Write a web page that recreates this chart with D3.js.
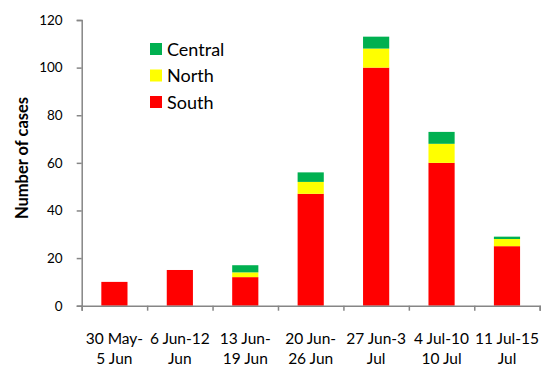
<!DOCTYPE html>
<html>
<head>
<meta charset="utf-8">
<script src="https://cdn.jsdelivr.net/npm/d3@7"></script>
<style>
  html, body { margin: 0; padding: 0; background: #fff; }
  svg { display: block; font-family: Lato, "Open Sans", sans-serif; }
</style>
</head>
<body>
<svg id="chart" width="544" height="365"></svg>
<script>
// Weekly case counts by region
const weeks = [
  ["30 May-", "5 Jun"],
  ["6 Jun-12", "Jun"],
  ["13 Jun-", "19 Jun"],
  ["20 Jun-", "26 Jun"],
  ["27 Jun-3", "Jul"],
  ["4 Jul-10", "10 Jul"],
  ["11 Jul-15", "Jul"]
];
const south   = [10, 15, 12, 47, 100, 60, 25];
const north   = [0, 0, 2, 5, 8, 8, 3];
const central = [0, 0, 3, 4, 5, 5, 1];
const yTicks  = [0, 20, 40, 60, 80, 100, 120];

const seriesNames  = ["South", "North", "Central"];
const seriesColors = { South: "#FF0000", North: "#FFFF00", Central: "#00B050" };

const rows = weeks.map((w, i) => ({ key: i, South: south[i], North: north[i], Central: central[i] }));
const stacked = d3.stack().keys(seriesNames)(rows);

const svg = d3.select("#chart");
const plotLeft = 81.7, plotRight = 539.7, plotTop = 20, plotBottom = 305.7;

const x = d3.scaleBand().domain(weeks.map((w, i) => i)).range([plotLeft, plotRight]).paddingInner(0.6).paddingOuter(0.3);
const xEdges = d3.scaleLinear().domain([0, weeks.length]).range([plotLeft, plotRight]);
const y = d3.scaleLinear().domain([0, 120]).range([plotBottom, plotTop]);

const axisColor = "#868686";

// Stacked bars
svg.append("g").selectAll("g")
  .data(stacked)
  .join("g")
  .attr("fill", s => seriesColors[s.key])
  .selectAll("rect")
  .data(s => s)
  .join("rect")
  .attr("x", (d, i) => x(i))
  .attr("width", x.bandwidth())
  .attr("y", d => y(d[1]))
  .attr("height", d => Math.max(0, y(d[0]) - y(d[1])));

// Y axis
const yAxis = svg.append("g")
  .attr("transform", `translate(${plotLeft},0)`)
  .call(d3.axisLeft(y).tickValues(yTicks).tickSize(5).tickPadding(14));
yAxis.select(".domain").attr("stroke", axisColor).attr("stroke-width", 1.5);
yAxis.selectAll(".tick line").attr("stroke", axisColor).attr("stroke-width", 1.5);
yAxis.selectAll(".tick text")
  .attr("fill", "#000")
  .style("font-size", "13.5px")
  .style("font-family", "Lato, sans-serif");

// X axis: line with ticks at the category boundaries
const xAxis = svg.append("g")
  .attr("transform", `translate(0,${plotBottom})`)
  .call(d3.axisBottom(xEdges).tickValues(d3.range(0, weeks.length + 1)).tickSize(5).tickFormat(""));
xAxis.select(".domain").attr("stroke", axisColor).attr("stroke-width", 1.5);
xAxis.selectAll(".tick line").attr("stroke", axisColor).attr("stroke-width", 1.5);

// Two-line category labels
const labels = svg.append("g")
  .selectAll("text")
  .data(weeks)
  .join("text")
  .attr("text-anchor", "middle")
  .attr("fill", "#000")
  .style("font-size", "15.5px");
labels.each(function(w, i) {
  const t = d3.select(this);
  const cx = x(i) + x.bandwidth() / 2;
  t.append("tspan").attr("x", cx).attr("y", 344).text(w[0]);
  t.append("tspan").attr("x", cx).attr("y", 363.5).text(w[1]);
});

// Y axis title
svg.append("text")
  .attr("transform", "translate(28,158) rotate(-90)")
  .attr("text-anchor", "middle")
  .attr("fill", "#000")
  .style("font-size", "16.5px")
  .style("font-weight", "bold")
  .text("Number of cases");

// Legend
const legendOrder = ["Central", "North", "South"];
const legend = svg.append("g")
  .selectAll("g")
  .data(legendOrder)
  .join("g")
  .attr("transform", (d, i) => `translate(150,${49 + i * 26.5})`);
legend.append("rect")
  .attr("x", 0).attr("y", -6)
  .attr("width", 12).attr("height", 12)
  .attr("fill", d => seriesColors[d]);
legend.append("text")
  .attr("x", 17).attr("y", 6.5)
  .attr("fill", "#000")
  .style("font-size", "18px")
  .text(d => d);
</script>
</body>
</html>
